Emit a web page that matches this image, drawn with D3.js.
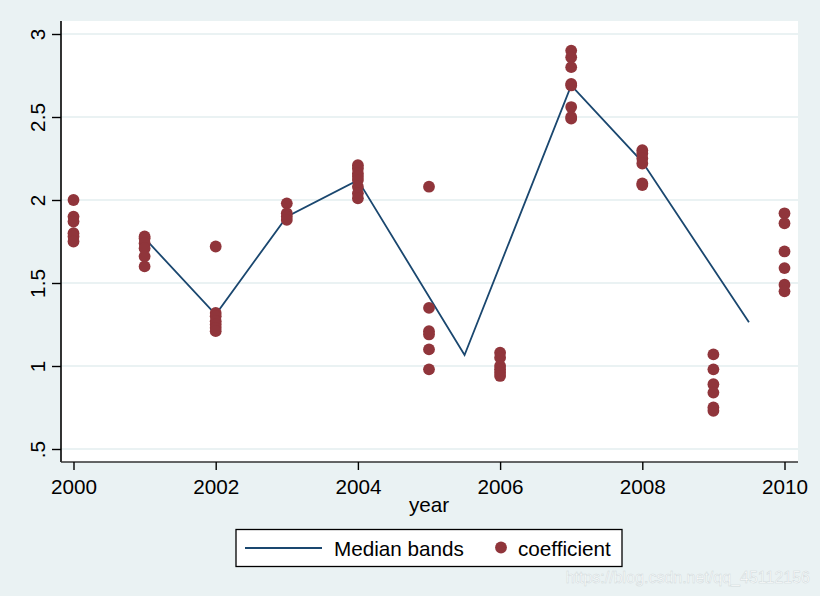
<!DOCTYPE html>
<html><head><meta charset="utf-8">
<script src="https://cdn.jsdelivr.net/npm/d3@7"></script>
<style>html,body{margin:0;padding:0;background:#eaf2f3;}svg{display:block;font-family:"Liberation Sans",Arial,sans-serif;}</style>
</head><body>
<svg id="c" width="820" height="596"></svg>
<script>
const years = [2000,2001,2002,2003,2004,2005,2006,2007,2008,2009,2010];
const coefficient = [
  [2.00,1.90,1.87,1.80,1.78,1.75],
  [1.78,1.77,1.74,1.71,1.66,1.60],
  [1.72,1.32,1.30,1.27,1.25,1.23,1.21],
  [1.98,1.92,1.90,1.88],
  [2.21,2.19,2.16,2.14,2.12,2.08,2.04,2.01],
  [2.08,1.35,1.21,1.19,1.10,0.98],
  [1.08,1.05,1.00,0.98,0.96,0.94],
  [2.90,2.86,2.80,2.70,2.69,2.56,2.50,2.49],
  [2.30,2.28,2.25,2.22,2.10,2.09],
  [1.07,0.98,0.89,0.84,0.75,0.73],
  [1.92,1.86,1.69,1.59,1.49,1.45]
];
const medianX = [2001,2002,2003,2004,2005.5,2007,2008,2009.5];
const medianY = [1.77,1.31,1.90,2.12,1.066,2.69,2.23,1.263];
const xTicks = [2000,2002,2004,2006,2008,2010];
const yTicks = [0.5,1,1.5,2,2.5,3];
const yTickLabels = [".5","1","1.5","2","2.5","3"];

const svg = d3.select("#c");
const W=820,H=596;
const plot = {l:61,r:798,t:21,b:462};
const x = d3.scaleLinear().domain([2000,2010]).range([73.5,784.5]);
const y = d3.scaleLinear().domain([0.5,3]).range([449,34]);
const navy="#1a476f", maroon="#90353b", grid="#eaf2f3";
const fs="20.7px";

svg.append("rect").attr("width",W).attr("height",H).attr("fill","#eaf2f3");
svg.append("rect").attr("x",plot.l).attr("y",plot.t).attr("width",plot.r-plot.l).attr("height",plot.b-plot.t).attr("fill","#fff");

// gridlines
svg.append("g").selectAll("line").data(yTicks).join("line")
  .attr("x1",plot.l).attr("x2",plot.r).attr("y1",d=>y(d)).attr("y2",d=>y(d))
  .attr("stroke",grid).attr("stroke-width",2);

// median line
const line = d3.line().x(d=>x(d[0])).y(d=>y(d[1]));
svg.append("path").datum(medianX.map((d,i)=>[d,medianY[i]]))
  .attr("d",line).attr("fill","none").attr("stroke",navy).attr("stroke-width",1.8);

// points
const pts = [];
years.forEach((yr,i)=>coefficient[i].forEach(v=>pts.push([yr,v])));
svg.append("g").selectAll("circle").data(pts).join("circle")
  .attr("cx",d=>x(d[0])).attr("cy",d=>y(d[1])).attr("r",5.9).attr("fill",maroon);

// axes
const yAxis = d3.axisLeft(y).tickValues(yTicks).tickFormat((d,i)=>yTickLabels[i]).tickSize(9).tickPadding(0);
const gy = svg.append("g").attr("transform",`translate(${plot.l},0)`).call(yAxis);
gy.select(".domain").attr("d",`M0,${plot.t}V${plot.b}`).attr("stroke","#000").attr("stroke-width",1.6);
gy.selectAll(".tick line").attr("stroke","#000").attr("stroke-width",1.4);
gy.selectAll(".tick text")
  .attr("x",null).attr("dy","0")
  .attr("transform","translate(-16,0) rotate(-90)")
  .attr("text-anchor","middle")
  .attr("font-size",fs).attr("fill","#000");

const xAxis = d3.axisBottom(x).tickValues(xTicks).tickFormat(d3.format("d")).tickSize(8).tickPadding(0);
const gx = svg.append("g").attr("transform",`translate(0,${plot.b})`).call(xAxis);
gx.select(".domain").attr("d",`M${plot.l},0H${plot.r}`).attr("stroke","#333").attr("stroke-width",1.6);
gx.selectAll(".tick line").attr("stroke","#000").attr("stroke-width",1.4);
gx.selectAll(".tick text").attr("y",32).attr("dy",0).attr("font-size",fs).attr("fill","#000");

svg.append("text").attr("x",429).attr("y",512).attr("text-anchor","middle")
  .attr("font-size",fs).text("year");

// legend
const lg = svg.append("g");
lg.append("rect").attr("x",236).attr("y",529.5).attr("width",386).attr("height",37)
  .attr("fill","#fff").attr("stroke","#000").attr("stroke-width",1.3);
lg.append("line").attr("x1",245).attr("x2",322).attr("y1",548).attr("y2",548)
  .attr("stroke",navy).attr("stroke-width",1.8);
lg.append("text").attr("x",334).attr("y",555.5).attr("font-size",fs).text("Median bands");
lg.append("circle").attr("cx",501).attr("cy",547.5).attr("r",5.9).attr("fill",maroon);
lg.append("text").attr("x",518).attr("y",555.5).attr("font-size",fs).text("coefficient");

// watermark
svg.append("text").attr("x",810).attr("y",583).attr("text-anchor","end")
  .attr("font-size","16px").attr("fill","#ffffff").attr("stroke","#cfd8da").attr("stroke-width",0.5)
  .text("https://blog.csdn.net/qq_45112156");
</script>
</body></html>
